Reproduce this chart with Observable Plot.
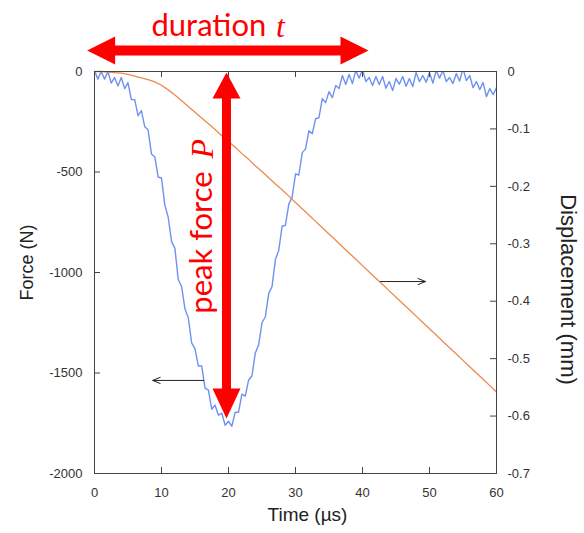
<!DOCTYPE html>
<html><head><meta charset="utf-8">
<script src="https://cdn.jsdelivr.net/npm/d3@7"></script>
<script src="https://cdn.jsdelivr.net/npm/@observablehq/plot@0.6"></script>
<style>body{margin:0;background:#fff} #chart svg{display:block}</style>
</head><body><div id="chart"></div>
<script>
// ---- data ----
const forceTime = [0,0.5,1,1.5,2,2.5,3,3.5,4,4.5,5,5.5,6,6.5,7,7.5,8,8.5,9,9.5,10,10.5,11,11.5,12,12.5,13,13.5,14,14.5,15,15.5,16,16.5,17,17.5,18,18.5,19,19.5,20,20.5,21,21.5,22,22.5,23,23.5,24,24.5,25,25.5,26,26.5,27,27.5,28,28.5,29,29.5,30,30.5,31,31.5,32,32.5,33,33.5,34,34.5,35,35.5,36,36.5,37,37.5,38,38.5,39,39.5,40,40.5,41,41.5,42,42.5,43,43.5,44,44.5,45,45.5,46,46.5,47,47.5,48,48.5,49,49.5,50,50.5,51,51.5,52,52.5,53,53.5,54,54.5,55,55.5,56,56.5,57,57.5,58,58.5,59,59.5,60];
const forceN = [5,-38,0,-38,0,-58,-30,-72,-30,-85,-55,-140,-140,-220,-195,-275,-290,-410,-425,-525,-530,-665,-725,-845,-880,-1035,-1070,-1180,-1225,-1350,-1380,-1465,-1465,-1575,-1585,-1680,-1660,-1710,-1700,-1760,-1740,-1765,-1695,-1695,-1605,-1615,-1535,-1515,-1400,-1360,-1250,-1220,-1105,-1070,-935,-890,-770,-765,-660,-625,-510,-515,-405,-385,-295,-310,-235,-230,-135,-155,-100,-130,-70,-85,-20,-65,-15,-60,5,-33,10,-50,-30,-70,-25,-65,-25,-83,-50,-95,-35,-63,-25,-73,-35,-75,-5,-50,-20,-53,-5,-58,5,-33,5,-50,-30,-60,-10,-48,15,-45,-20,-80,-50,-90,-55,-125,-85,-115,-80];
const dispTime = [0,1,2,3,4,5,6,7,8,9,10,11,12,13,14,15,16,17,18,19,20,21,22,23,24,25,26,27,28,29,30,31,32,33,34,35,36,37,38,39,40,41,42,43,44,45,46,47,48,49,50,51,52,53,54,55,56,57,58,59,60];
const dispMm = [0,0,-0.001,-0.002,-0.003,-0.005,-0.008,-0.011,-0.014,-0.018,-0.024,-0.032,-0.041,-0.051,-0.061,-0.071,-0.081,-0.091,-0.101,-0.112,-0.122,-0.132,-0.143,-0.153,-0.164,-0.174,-0.185,-0.196,-0.206,-0.217,-0.228,-0.239,-0.250,-0.261,-0.272,-0.283,-0.294,-0.305,-0.316,-0.327,-0.338,-0.349,-0.360,-0.371,-0.382,-0.393,-0.404,-0.415,-0.426,-0.437,-0.448,-0.459,-0.470,-0.481,-0.492,-0.503,-0.514,-0.525,-0.536,-0.547,-0.558];
const xTicks = [0,10,20,30,40,50,60];
const forceTicks = [0,-500,-1000,-1500,-2000];
const dispTicks = [0,-0.1,-0.2,-0.3,-0.4,-0.5,-0.6,-0.7];
const xLabel = "Time (µs)";
const leftLabel = "Force (N)";
const rightLabel = "Displacement (mm)";
// annotation anchors (time µs, force N)
const durationArrow = [{t1: -1.1, t2: 40.9, f: 105}];
const peakArrow = [{t: 19.7, f1: -5, f2: -1726}];
const pointerArrows = [{t1: 16.3, t2: 8.7, f: -1537}, {t1: 42.7, t2: 49.4, f: -1045}];
const durationText = [{text: "duration", t: 8.5, f: 224}];
const durationVar = [{text: "t", t: 27.1, f: 224}];
const peakText = [{text: "peak force", t: 16.1, f: -1205}];
const peakVar = [{text: "P", t: 16.1, f: -335}];

// ---- chart ----
const k = 2000 / 0.7; // mm -> N axis mapping
const forceData = forceTime.map((t, i) => ({t, v: forceN[i]}));
const dispData = dispTime.map((t, i) => ({t, v: dispMm[i] * k}));
const dispTickPos = dispTicks.map(d => d * k);

const blue = "#6f91f2", orange = "#ec8a4c", red = "#ff0000", ink = "#333";
const sans = "Liberation Sans, Arial, sans-serif";
const anno = "Lato, sans-serif";
const serif = "Liberation Serif, Times New Roman, serif";

function head(dx, dy, L, W) {
  return {draw(ctx) {
    const bx = -dx * L, by = -dy * L, px = -dy * W / 2, py = dx * W / 2;
    ctx.moveTo(0, 0); ctx.lineTo(bx + px, by + py); ctx.lineTo(bx - px, by - py); ctx.closePath();
  }};
}

const chart = Plot.plot({
  width: 584, height: 533,
  marginLeft: 94, marginRight: 88, marginTop: 71, marginBottom: 60,
  style: {fontFamily: sans, background: "white"},
  x: {domain: [0, 60], axis: null},
  y: {domain: [-2000, 0], axis: null},
  marks: [
    Plot.line(forceData, {x: "t", y: "v", stroke: blue, strokeWidth: 1.4, clip: true}),
    Plot.line(dispData, {x: "t", y: "v", stroke: orange, strokeWidth: 1.3}),
    Plot.frame({stroke: "#444"}),
    Plot.tickX(xTicks, {x: d => d, insetTop: 396, stroke: "#444"}),
    Plot.tickX(xTicks, {x: d => d, insetBottom: 396, stroke: "#444"}),
    Plot.tickY(forceTicks, {y: d => d, insetRight: 396, stroke: "#444"}),
    Plot.tickY(dispTickPos, {y: d => d, insetLeft: 396, stroke: "#444"}),
    Plot.axisX(xTicks, {anchor: "bottom", tickSize: 0, tickPadding: 14, fontSize: 13, color: ink, tickFormat: d => String(d), label: null}),
    Plot.axisY(forceTicks, {anchor: "left", tickSize: 0, tickPadding: 12, fontSize: 13, color: ink, tickFormat: d => String(d), label: null}),
    Plot.axisY(dispTickPos, {anchor: "right", tickSize: 0, tickPadding: 11, fontSize: 13, color: ink, tickFormat: v => { const d = v / k; return Math.abs(d) < 1e-9 ? "0" : d.toFixed(1); }, label: null}),
    Plot.text([xLabel], {frameAnchor: "bottom", textAnchor: "middle", dy: 47, dx: 12, fontSize: 19, fill: "#222"}),
    Plot.text([leftLabel], {frameAnchor: "left", textAnchor: "middle", dx: -67, dy: -10, rotate: -90, fontSize: 18, fill: "#222"}),
    Plot.text([rightLabel], {frameAnchor: "right", textAnchor: "middle", dx: 72, dy: 17, rotate: 90, fontSize: 22, fill: "#222"}),
    // pointer arrows
    Plot.arrow(pointerArrows, {x1: "t1", x2: "t2", y1: "f", y2: "f", stroke: "#222", strokeWidth: 1, headLength: 12, headAngle: 45}),
    // red duration arrow
    Plot.arrow(durationArrow, {x1: "t1", x2: "t2", y1: "f", y2: "f", stroke: red, strokeWidth: 10, headLength: 0, insetStart: 26, insetEnd: 26, strokeLinecap: "butt"}),
    Plot.dot(durationArrow, {x: "t1", y: "f", symbol: head(-1, 0, 28, 28), fill: red, stroke: "none"}),
    Plot.dot(durationArrow, {x: "t2", y: "f", symbol: head(1, 0, 28, 28), fill: red, stroke: "none"}),
    // red peak arrow
    Plot.arrow(peakArrow, {x1: "t", x2: "t", y1: "f1", y2: "f2", stroke: red, strokeWidth: 9, headLength: 0, insetStart: 24, insetEnd: 24, strokeLinecap: "butt"}),
    Plot.dot(peakArrow, {x: "t", y: "f1", symbol: head(0, -1, 26, 28), fill: red, stroke: "none"}),
    Plot.dot(peakArrow, {x: "t", y: "f2", symbol: head(0, 1, 30, 28), fill: red, stroke: "none"}),
    // red labels
    Plot.text(durationText, {x: "t", y: "f", text: "text", textAnchor: "start", fontFamily: anno, fontSize: 31, fill: red}),
    Plot.text(durationVar, {x: "t", y: "f", text: "text", textAnchor: "start", fontFamily: serif, fontStyle: "italic", fontSize: 32, fill: red}),
    Plot.text(peakText, {x: "t", y: "f", text: "text", textAnchor: "start", rotate: -90, fontFamily: anno, fontSize: 31, fill: red}),
    Plot.text(peakVar, {x: "t", y: "f", text: "text", textAnchor: "end", rotate: -90, fontFamily: serif, fontStyle: "italic", fontSize: 32, fill: red})
  ]
});
document.getElementById("chart").append(chart);
</script>
</body></html>
